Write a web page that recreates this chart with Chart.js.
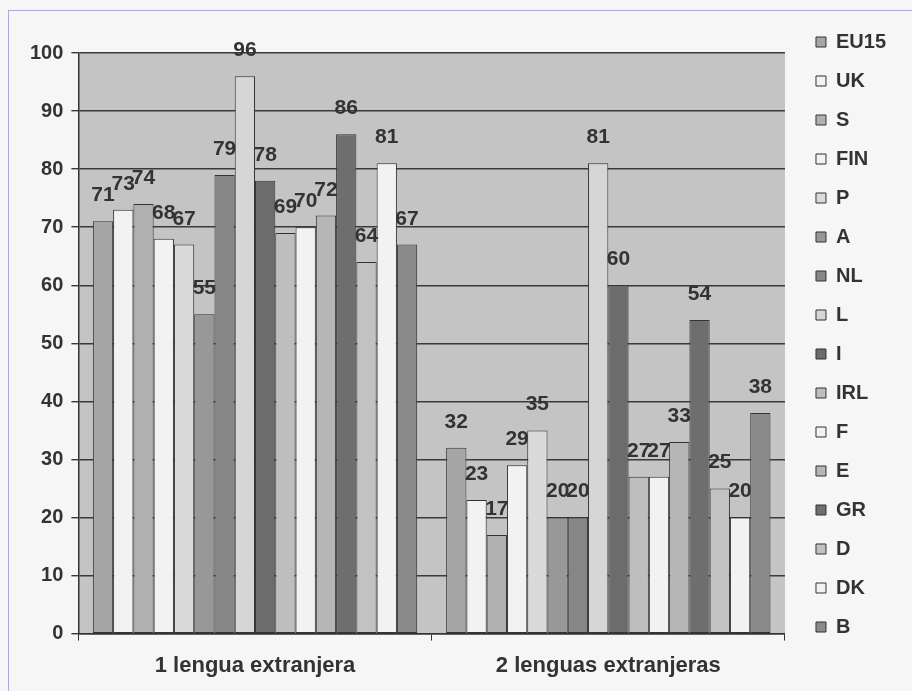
<!DOCTYPE html>
<html>
<head>
<meta charset="utf-8">
<script src="https://cdn.jsdelivr.net/npm/chart.js@4"></script>
<style>
  html, body { margin: 0; padding: 0; background: #f6f6f6; }
  #wrap { position: relative; width: 912px; height: 691px; }
  #frame { position: absolute; left: 8px; top: 10px; width: 910px; height: 690px;
           border-left: 1px solid #a9a9dc; border-top: 1px solid #a9a9dc; }
  canvas { position: absolute; left: 0; top: 0; }
</style>
</head>
<body>
<div id="wrap">
  <div id="frame"></div>
  <canvas id="traser" width="912" height="691"></canvas>
</div>
<script>
const categories = ['1 lengua extranjera', '2 lenguas extranjeras'];
const countries = ['EU15', 'UK', 'S', 'FIN', 'P', 'A', 'NL', 'L', 'I', 'IRL', 'F', 'E', 'GR', 'D', 'DK', 'B'];
const oneLanguage = [71, 73, 74, 68, 67, 55, 79, 96, 78, 69, 70, 72, 86, 64, 81, 67];
const twoLanguages = [32, 23, 17, 29, 35, 20, 20, 81, 60, 27, 27, 33, 54, 25, 20, 38];
const yTicks = [0, 10, 20, 30, 40, 50, 60, 70, 80, 90, 100];

const fills = ['#a6a6a6', '#f2f2f2', '#b0b0b0', '#f2f2f2', '#dadada', '#989898', '#868686', '#d6d6d6',
               '#6c6c6c', '#bebebe', '#f2f2f2', '#b6b6b6', '#6e6e6e', '#c2c2c2', '#f2f2f2', '#8a8a8a'];

const ink = '#333333';
const boldFont = { family: 'Arial, "Liberation Sans", sans-serif', size: 20, weight: 'bold' };

// grey plot background
const plotBg = {
  id: 'plotBg',
  beforeDraw(chart) {
    const { ctx, chartArea: a } = chart;
    ctx.save();
    ctx.fillStyle = '#c4c4c4';
    ctx.fillRect(a.left, a.top, a.right - a.left, a.bottom - a.top);
    ctx.restore();
  }
};

// value labels above each bar
const barLabels = {
  id: 'barLabels',
  afterDatasetsDraw(chart) {
    const ctx = chart.ctx;
    ctx.save();
    ctx.font = 'bold 21px Arial, "Liberation Sans", sans-serif';
    ctx.fillStyle = ink;
    ctx.textAlign = 'center';
    ctx.textBaseline = 'alphabetic';
    chart.data.datasets.forEach((ds, i) => {
      chart.getDatasetMeta(i).data.forEach((bar, j) => {
        ctx.fillText(String(ds.data[j]), bar.x, bar.y - 20);
      });
    });
    ctx.restore();
  }
};

const datasets = countries.map((c, i) => ({
  label: c,
  data: [oneLanguage[i], twoLanguages[i]],
  backgroundColor: fills[i],
  borderColor: ink,
  borderWidth: 1,
  borderSkipped: false
}));

new Chart(document.getElementById('traser'), {
  type: 'bar',
  data: { labels: categories, datasets },
  options: {
    responsive: false,
    animation: false,
    categoryPercentage: 0.918,
    barPercentage: 1.0,
    layout: { padding: { left: 22, right: 16, top: 13, bottom: 0 } },
    plugins: {
      tooltip: { enabled: false },
      title: { display: true, text: '', fullSize: false, font: { size: 10, lineHeight: 1 }, padding: { top: 16, bottom: 14 } },
      legend: {
        position: 'right',
        align: 'start',
        labels: {
          font: boldFont,
          color: ink,
          boxWidth: 10,
          boxHeight: 10,
          padding: 19
        }
      }
    },
    scales: {
      x: {
        grid: { display: true, drawOnChartArea: false, drawTicks: true, tickLength: 7, color: ink, offset: true },
        border: { display: true, color: ink, width: 1.5 },
        ticks: { font: { ...boldFont, size: 22 }, color: ink, padding: 12 }
      },
      y: {
        min: 0,
        max: 100,
        afterBuildTicks(scale) { scale.ticks = yTicks.map(v => ({ value: v })); },
        grid: { color: '#3a3a3a', lineWidth: 1.4, tickLength: 7 },
        border: { display: true, color: ink, width: 1.5 },
        ticks: { font: boldFont, color: ink, padding: 8 }
      },
      gap: {
        type: 'linear',
        position: 'right',
        display: true,
        grid: { display: false },
        border: { display: false },
        ticks: { display: false },
        afterFit(scale) { scale.width = 12; }
      }
    }
  },
  plugins: [plotBg, barLabels]
});
</script>
</body>
</html>
